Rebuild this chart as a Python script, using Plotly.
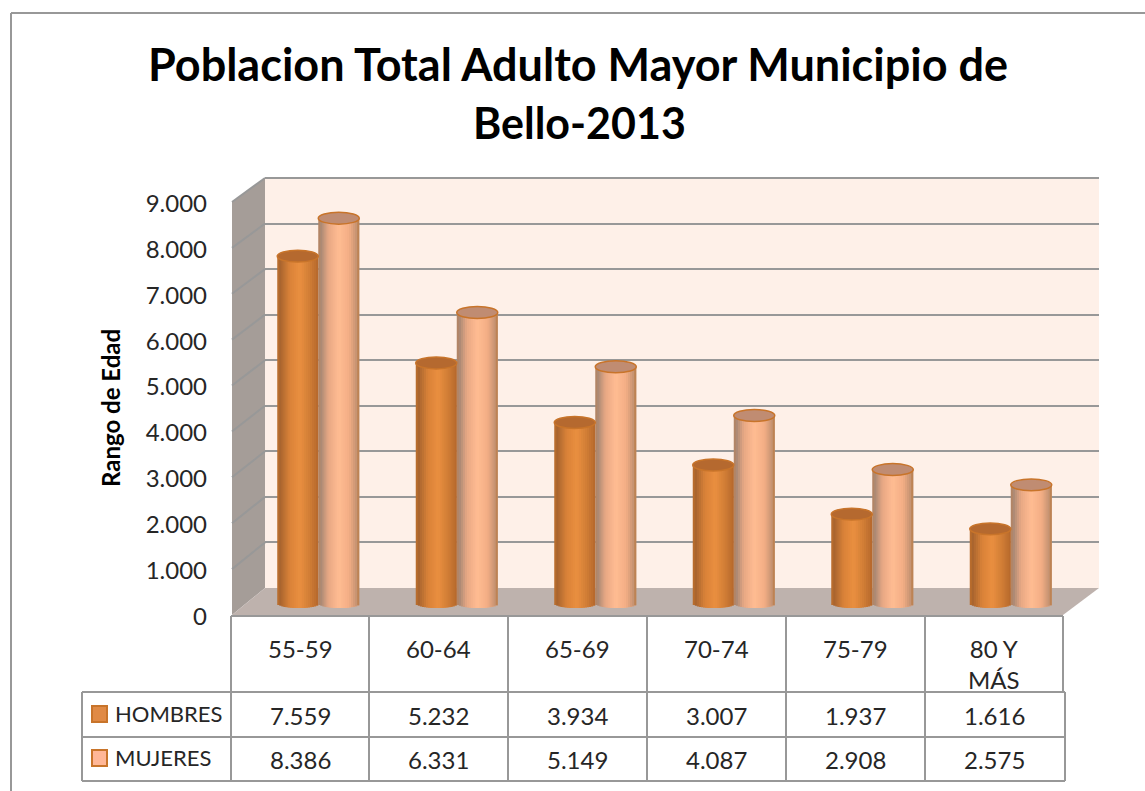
import plotly.graph_objects as go

# Source table: population by age band
categories = ["55-59", "60-64", "65-69", "70-74", "75-79", "80 Y<br>MÁS"]
hombres = [7559, 5232, 3934, 3007, 1937, 1616]
mujeres = [8386, 6331, 5149, 4087, 2908, 2575]
y_ticks = [0, 1000, 2000, 3000, 4000, 5000, 6000, 7000, 8000, 9000]

W, H = 1145, 791
TEXT = "#262626"
LINE = "#989898"
FONT = "Lato"


def px(x):
    return x / W


def py(y):
    return 1 - y / H


def dotted(v):
    return f"{v:,}".replace(",", ".")


def lerp_stops(stops, u):
    for (a, ca), (b, cb) in zip(stops, stops[1:]):
        if a <= u <= b:
            t = (u - a) / (b - a)
            rgb = [round(int(ca[i:i + 2], 16) * (1 - t) + int(cb[i:i + 2], 16) * t) for i in (1, 3, 5)]
            return f"rgb({rgb[0]},{rgb[1]},{rgb[2]})"
    return stops[-1][1]


# Horizontal shading across a cylinder, -1 at the left edge and 1 at the right
shade_h = [(-1, "#C0702C"), (-0.85, "#A9652F"), (-0.4, "#D98238"), (0.1, "#EA8F40"), (0.6, "#CF7C35"), (1, "#B5682C")]
shade_m = [(-1, "#B5835F"), (-0.85, "#AD8A75"), (-0.5, "#E8A884"), (0, "#FFBC92"), (0.5, "#F3AE85"), (0.85, "#C79473"), (1, "#B87A45")]

# Plot planes: back wall, bar plane and front value axis
WALL_L, WALL_R, WALL_T, WALL_B = 265, 1099, 178, 588
FRONT_L, FRONT_R, FRONT_T, FRONT_B = 232, 1063, 202, 615
BAR_L, BAR_R, BAR_T, BAR_B = 249, 1080, 190, 621.4
Y_MIN = -400

BAR_W = 0.296
SLICES = 20
CAP_Y = 130
FOOT_Y = 110

fig = go.Figure()

# Carrier traces so the wall grid and the value axis are laid out
fig.add_trace(go.Scatter(x=[0], y=[0], xaxis="x", yaxis="y", mode="markers",
                         marker=dict(opacity=0), hoverinfo="skip", showlegend=False))
fig.add_trace(go.Scatter(x=[0], y=[0], xaxis="x", yaxis="y3", mode="markers",
                         marker=dict(opacity=0), hoverinfo="skip", showlegend=False))


def add_cylinders(name, values, shift, stops):
    xs, ys, offsets, widths, colors = [], [], [], [], []
    foot_xs, foot_ys = [], []
    sw = BAR_W / SLICES
    for i, v in enumerate(values):
        for s in range(SLICES):
            u = -1 + 2 * (s + 0.5) / SLICES
            xs.append(i)
            ys.append(v)
            offsets.append(shift - BAR_W / 2 + s * sw)
            # Each slice runs under its right-hand neighbour so no seams show
            widths.append(sw * (2 if s < SLICES - 1 else 1))
            colors.append(lerp_stops(stops, u))
            foot_xs.append(i)
            foot_ys.append(-FOOT_Y * (1 - u * u) ** 0.5)
    common = dict(xaxis="x2", yaxis="y2", offset=offsets, width=widths,
                  marker=dict(color=colors, line=dict(width=0)), showlegend=False)
    fig.add_trace(go.Bar(x=foot_xs, y=foot_ys, name=name, hoverinfo="skip", **common))
    fig.add_trace(go.Bar(x=xs, y=ys, name=name, **common))


add_cylinders("HOMBRES", hombres, -BAR_W / 2, shade_h)
add_cylinders("MUJERES", mujeres, BAR_W / 2, shade_m)

shapes = []


def poly(points, fill):
    path = "M " + " L ".join(f"{px(x)},{py(y)}" for x, y in points) + " Z"
    shapes.append(dict(type="path", xref="paper", yref="paper", path=path, fillcolor=fill,
                       line=dict(width=0), layer="below"))


def rule(x0, y0, x1, y1, width=2, color=LINE, layer="above"):
    shapes.append(dict(type="line", xref="paper", yref="paper", x0=px(x0), y0=py(y0), x1=px(x1), y1=py(y1),
                       line=dict(color=color, width=width), layer=layer))


# Chart frame
rule(11, 13, W, 13)
rule(11, 13, 11, H)

# Back wall, side wall and floor
poly([(WALL_L, WALL_T), (WALL_R, WALL_T), (WALL_R, WALL_B), (WALL_L, WALL_B)], "#FEF0E8")
poly([(FRONT_L, FRONT_T), (WALL_L, WALL_T), (WALL_L, WALL_B), (FRONT_L, FRONT_B)], "#A59D98")
poly([(FRONT_L, FRONT_B), (WALL_L, WALL_B), (WALL_R, WALL_B), (FRONT_R, FRONT_B)], "#BEB2AD")

# Top edge of the wall, where the last grid line would be clipped
rule(WALL_L, WALL_T, WALL_R, WALL_T, layer="below")

# Grid continues down the side wall
for t in y_ticks[1:]:
    f = t / y_ticks[-1]
    rule(FRONT_L, FRONT_B + (FRONT_T - FRONT_B) * f, WALL_L, WALL_B + (WALL_T - WALL_B) * f, layer="below")

# Cylinder tops
for values, shift, fill in ((hombres, -BAR_W / 2, "#B5692F"), (mujeres, BAR_W / 2, "#C08C72")):
    for i, v in enumerate(values):
        shapes.append(dict(type="circle", xref="x2", yref="y2",
                           x0=i + shift - BAR_W / 2, x1=i + shift + BAR_W / 2,
                           y0=v - CAP_Y, y1=v + CAP_Y, fillcolor=fill,
                           line=dict(color="#C8742A", width=1.5), layer="above"))

# Data table under the plot
col_x = [231, 369, 508, 647, 786, 925, 1063]
row_y = [616, 692, 737, 781]
LEG_L = 82
TABLE_R = 1065
for x in col_x[:-1]:
    rule(x, row_y[0], x, row_y[-1])
rule(col_x[-1], row_y[0], col_x[-1], row_y[1])
rule(TABLE_R, row_y[1], TABLE_R, row_y[-1])
rule(LEG_L, row_y[1], LEG_L, row_y[-1])
rule(col_x[0], row_y[0], col_x[-1], row_y[0])
for y in row_y[1:]:
    rule(LEG_L, y, TABLE_R, y)

annotations = []


def label(x, y, text, size=24, color=TEXT, bold=False, angle=0, xanchor="center"):
    annotations.append(dict(xref="paper", yref="paper", x=px(x), y=py(y), text=f"<b>{text}</b>" if bold else text,
                            showarrow=False, xanchor=xanchor, yanchor="middle", textangle=angle,
                            font=dict(family=FONT, size=size, color=color)))


for i, cat in enumerate(categories):
    cx = (col_x[i] + col_x[i + 1]) / 2
    label(cx, 664 if "<br>" in cat else 648, cat)
    label(cx, 715, dotted(hombres[i]))
    label(cx, 759, dotted(mujeres[i]))

# Legend keys inside the table
for y, fill, name in ((714, "#E08A45", "HOMBRES"), (758, "#FFB797", "MUJERES")):
    shapes.append(dict(type="rect", xref="paper", yref="paper", x0=px(92), x1=px(107), y0=py(y - 8), y1=py(y + 8),
                       fillcolor=fill, line=dict(color="#C8742A", width=2), layer="above"))
    label(113, y - 1, name, size=22, xanchor="left")

label(110, 408, "Rango de Edad", size=24, bold=True, angle=-90, color="#000000")
label(578, 64, "Poblacion Total Adulto Mayor Municipio de", size=45, bold=True, color="#000000")
label(579, 122, "Bello-2013", size=43, bold=True, color="#000000")

fig.update_layout(
    template="none",
    width=W, height=H, autosize=False,
    margin=dict(l=0, r=0, t=0, b=0),
    paper_bgcolor="white", plot_bgcolor="rgba(0,0,0,0)",
    barmode="overlay",
    shapes=shapes, annotations=annotations,
    font=dict(family=FONT, color=TEXT),
    xaxis=dict(domain=[px(WALL_L), px(WALL_R)], visible=False, range=[0, 1], fixedrange=True, automargin=False),
    yaxis=dict(domain=[py(WALL_B), py(WALL_T)], range=[0, 9000], tickvals=y_ticks, showgrid=True,
               gridcolor=LINE, gridwidth=2, zeroline=False, showticklabels=False, showline=False, ticks="",
               fixedrange=True, automargin=False),
    xaxis2=dict(domain=[px(BAR_L), px(BAR_R)], range=[-0.5, 5.5], visible=False, anchor="y2", fixedrange=True,
                automargin=False),
    yaxis2=dict(domain=[py(BAR_B), py(BAR_T)], range=[Y_MIN, 9000], visible=False, anchor="x2", fixedrange=True,
                automargin=False),
    yaxis3=dict(domain=[py(FRONT_B + 1.5), py(FRONT_T + 1.5)], range=[0, 9000], anchor="free", position=px(207),
                side="left", tickvals=y_ticks, ticktext=[dotted(t) for t in y_ticks], showgrid=False, zeroline=False,
                showline=False, ticks="", tickfont=dict(family=FONT, size=24, color=TEXT), fixedrange=True,
                automargin=False),
)

fig.write_html("out.html", config=dict(displayModeBar=False))
